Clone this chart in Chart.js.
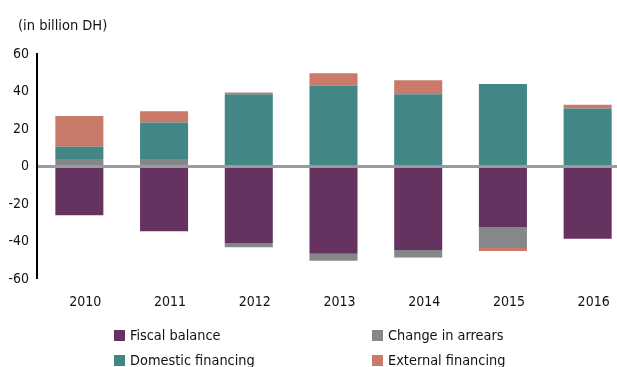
<!DOCTYPE html>
<html>
<head>
<meta charset="utf-8">
<script src="https://cdn.jsdelivr.net/npm/chart.js@4"></script>
<style>
  html, body { margin: 0; padding: 0; background: #fff; }
  body { width: 617px; height: 367px; overflow: hidden; position: relative;
         font-family: "DejaVu Sans Condensed", "Open Sans", sans-serif; }
  #wrap { position: absolute; left: 0; top: 0; width: 630px; height: 367px; }
  #title { position: absolute; left: 18px; top: 17px; font-size: 14.5px; color: #111; }
  #legend { position: absolute; left: 114px; top: 325px; display: grid;
            grid-template-columns: 258px 200px; row-gap: 5px; font-size: 14.4px; color: #111; }
  .item { display: flex; align-items: center; height: 20px; }
  .box { width: 11px; height: 11px; margin-right: 5px; }
</style>
</head>
<body>
<div id="wrap"><canvas id="chart" width="630" height="367"></canvas></div>
<div id="title">(in billion DH)</div>
<div id="legend"></div>
<script>
const years = ["2010", "2011", "2012", "2013", "2014", "2015", "2016"];
const fiscalBalance = [-26, -34.5, -41, -46.5, -44.5, -32.5, -38.5];
const changeInArrears = [4, 4, -2, -3.7, -4, -11, 0];
const domesticFinancing = [6.5, 19.5, 38.5, 43.2, 38.5, 44, 31];
const externalFinancing = [16.5, 6, 1, 6.5, 7.5, -1.5, 2];
const yTicks = [-60, -40, -20, 0, 20, 40, 60];

const seriesNames = ["Fiscal balance", "Change in arrears", "Domestic financing", "External financing"];
const seriesColors = ["#663360", "#858789", "#428686", "#C97A68"];
const seriesData = [fiscalBalance, changeInArrears, domesticFinancing, externalFinancing];

const ctx = document.getElementById("chart").getContext("2d");
const font = { family: '"DejaVu Sans Condensed", "Open Sans", sans-serif', size: 14 };

const chart = new Chart(ctx, {
  type: "bar",
  data: {
    labels: years,
    datasets: seriesNames.map((name, i) => ({
      label: name,
      data: seriesData[i],
      backgroundColor: seriesColors[i],
      borderWidth: 0,
      categoryPercentage: 1,
      barPercentage: 0.567,
    })),
  },
  options: {
    responsive: false,
    animation: false,
    layout: { padding: { top: 54, bottom: 48, left: 0, right: 0 } },
    plugins: { legend: { display: false }, tooltip: { enabled: false } },
    scales: {
      x: {
        stacked: true,
        grid: { display: false, drawTicks: false },
        border: { display: false },
        ticks: { color: "#111", font: font, padding: 15, labelOffset: 6, maxRotation: 0 },
        afterFit: (s) => { s.height = 40; },
      },
      y: {
        stacked: true,
        min: -60,
        max: 60,
        z: 1,
        afterBuildTicks: (s) => { s.ticks = yTicks.map((v) => ({ value: v })); },
        afterFit: (s) => { s.width = 37; },
        grid: {
          drawTicks: false,
          color: (c) => (c.tick && c.tick.value === 0 ? "#9A9B9E" : "rgba(0,0,0,0)"),
          lineWidth: (c) => (c.tick && c.tick.value === 0 ? 3 : 0),
        },
        border: { display: true, color: "#000", width: 2 },
        ticks: { color: "#111", font: font, padding: 8 },
      },
    },
  },
});

// legend built from the chart's own datasets
const legend = document.getElementById("legend");
chart.data.datasets.forEach((ds) => {
  const item = document.createElement("div");
  item.className = "item";
  const box = document.createElement("span");
  box.className = "box";
  box.style.background = ds.backgroundColor;
  item.appendChild(box);
  item.appendChild(document.createTextNode(ds.label));
  legend.appendChild(item);
});
</script>
</body>
</html>
